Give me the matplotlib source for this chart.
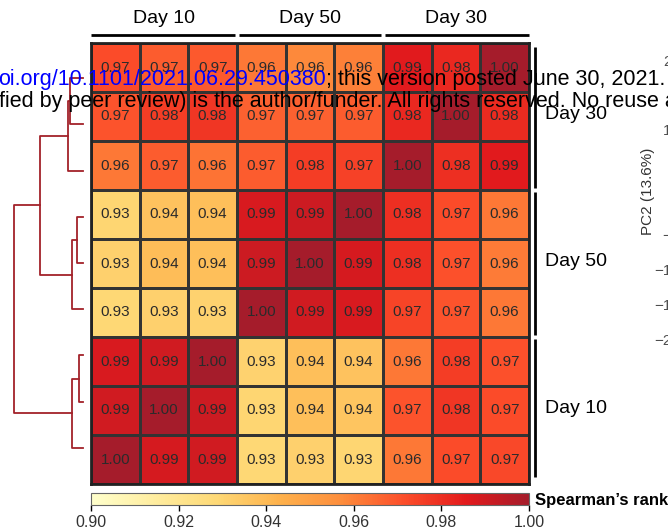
import numpy as np
import matplotlib
matplotlib.use("Agg")
import matplotlib.pyplot as plt
from matplotlib.colors import LinearSegmentedColormap

plt.rcParams['font.family'] = ['Liberation Sans', 'DejaVu Sans']

W, H = 668, 531

# Spearman correlations between samples (rows/cols in plotted order)
rho = np.array([
    [0.972, 0.968, 0.969, 0.962, 0.958, 0.960, 0.986, 0.982, 1.000],
    [0.970, 0.976, 0.978, 0.967, 0.967, 0.968, 0.982, 1.000, 0.981],
    [0.962, 0.968, 0.963, 0.968, 0.976, 0.975, 1.000, 0.980, 0.986],
    [0.930, 0.937, 0.938, 0.988, 0.991, 1.000, 0.980, 0.972, 0.962],
    [0.932, 0.939, 0.938, 0.991, 1.000, 0.989, 0.980, 0.971, 0.961],
    [0.929, 0.932, 0.931, 1.000, 0.990, 0.988, 0.974, 0.970, 0.962],
    [0.988, 0.990, 1.000, 0.931, 0.938, 0.937, 0.962, 0.976, 0.971],
    [0.990, 1.000, 0.991, 0.930, 0.938, 0.936, 0.970, 0.978, 0.972],
    [1.000, 0.989, 0.990, 0.929, 0.932, 0.930, 0.962, 0.972, 0.973],
])
col_groups = ["Day 10", "Day 50", "Day 30"]
row_groups = ["Day 30", "Day 50", "Day 10"]

# row clustering: (child a, child b, height), new nodes numbered from 9
linkage = [
    (0, 1, 0.130),
    (9, 2, 0.150),
    (3, 4, 0.063),
    (11, 5, 0.113),
    (6, 7, 0.043),
    (13, 8, 0.113),
    (10, 12, 0.430),
    (15, 14, 0.690),
]

cbar_ticks = [0.90, 0.92, 0.94, 0.96, 0.98, 1.00]
pc2_ticks = ["20", "10", "\u22125", "\u221210", "\u221215", "\u221220"]
pc2_tick_y = [62, 131, 236, 271, 306, 341]


def px(x0, y0, x1, y1):
    return [x0 / W, 1 - y1 / H, (x1 - x0) / W, (y1 - y0) / H]


cmap = LinearSegmentedColormap.from_list(
    "spear", ['#FFFFCC', '#FFEDA0', '#FED976', '#FEB24C', '#FD8D3C',
              '#FC4E2A', '#E31A1C', '#A51C2B'])

fig = plt.figure(figsize=(W / 100, H / 100), dpi=100)

# heatmap
ax = fig.add_axes(px(91, 43, 529, 484))
n = rho.shape[0]
mesh = ax.pcolormesh(np.arange(n + 1), np.arange(n + 1), rho, cmap=cmap,
                     vmin=0.90, vmax=1.00, edgecolors='#333333', linewidth=1.0)
ax.set_xlim(0, n)
ax.set_ylim(n, 0)
ax.set_xticks([])
ax.set_yticks([])
for s in ax.spines.values():
    s.set_linewidth(2.0)
    s.set_color('#222222')
for i in range(n):
    for j in range(n):
        ax.text(j + 0.5, i + 0.5, f"{rho[i, j]:.2f}", ha='center', va='center',
                fontsize=11, color='#2b2b2b')

# group brackets and labels
for g, lab in enumerate(col_groups):
    x0 = g * 3 + (0.05 if g > 0 else 0)
    x1 = g * 3 + 3 - (0.05 if g < 2 else 0)
    ax.plot([x0, x1], [-0.16, -0.16], color='black', lw=2, clip_on=False,
            solid_capstyle='butt')
    ax.text(g * 3 + 1.5, -0.49, lab, ha='center', va='center', fontsize=14)
for g, lab in enumerate(row_groups):
    y0 = g * 3 + (0.05 if g > 0 else 0.08)
    y1 = g * 3 + 3 - (0.05 if g < 2 else 0.15)
    ax.plot([9.13, 9.13], [y0, y1], color='black', lw=2, clip_on=False,
            solid_capstyle='butt')
    ax.text(9.33, g * 3 + 1.45, lab, ha='left', va='center', fontsize=14)

# dendrogram
dax = fig.add_axes(px(0, 55, 91, 471))
dax.set_xlim(0.83, -0.08)
dax.set_ylim(90, 0)
dax.axis('off')
pos = {i: 5 + 10 * i for i in range(n)}
hgt = {i: 0.0 for i in range(n)}
for k, (a, b, h) in enumerate(linkage):
    dax.plot([hgt[a], h, h, hgt[b]], [pos[a], pos[a], pos[b], pos[b]],
             color='#A2222A', lw=1.3)
    pos[n + k] = (pos[a] + pos[b]) / 2
    hgt[n + k] = h

# colour bar
cax = fig.add_axes(px(91, 493, 529, 505))
cb = fig.colorbar(mesh, cax=cax, orientation='horizontal', ticks=cbar_ticks)
cb.ax.set_xticklabels([f"{t:.2f}" for t in cbar_ticks])
cb.ax.tick_params(labelsize=11.5, length=4, width=1, colors='black',
                  labelcolor='#333333')
cb.outline.set_edgecolor('#666666')
cb.outline.set_linewidth(0.8)
fig.text(535 / W, 1 - 500 / H, "Spearman\u2019s rank", fontsize=12,
         fontweight='bold', ha='left', va='center')

# neighbouring PCA panel
fig.text(648 / W, 1 - 191 / H, "PC2 (13.6%)", rotation=90, fontsize=11,
         ha='center', va='center', color='#333333')
for lab, y in zip(pc2_ticks, pc2_tick_y):
    fig.text(680 / W, 1 - y / H, lab, fontsize=11, ha='right', va='center',
             color='#4d4d4d')

# preprint header
r = fig.canvas.get_renderer()
t1 = fig.text(-2 / W, 1 - 80 / H, "oi.org/10.1101/2021.06.29.450380",
              fontsize=15.5, color='blue', ha='left', va='center')
bb = t1.get_window_extent(r)
fig.text(bb.x1 / W, 1 - 80 / H,
         "; this version posted June 30, 2021. The copyright holder for this preprint",
         fontsize=15.5, color='black', ha='left', va='center')
fig.text(-1 / W, 1 - 102 / H,
         "fied by peer review) is the author/funder. All rights reserved. No reuse allowed without permission.",
         fontsize=15.5, color='black', ha='left', va='center')

fig.savefig("out.png", dpi=100)
